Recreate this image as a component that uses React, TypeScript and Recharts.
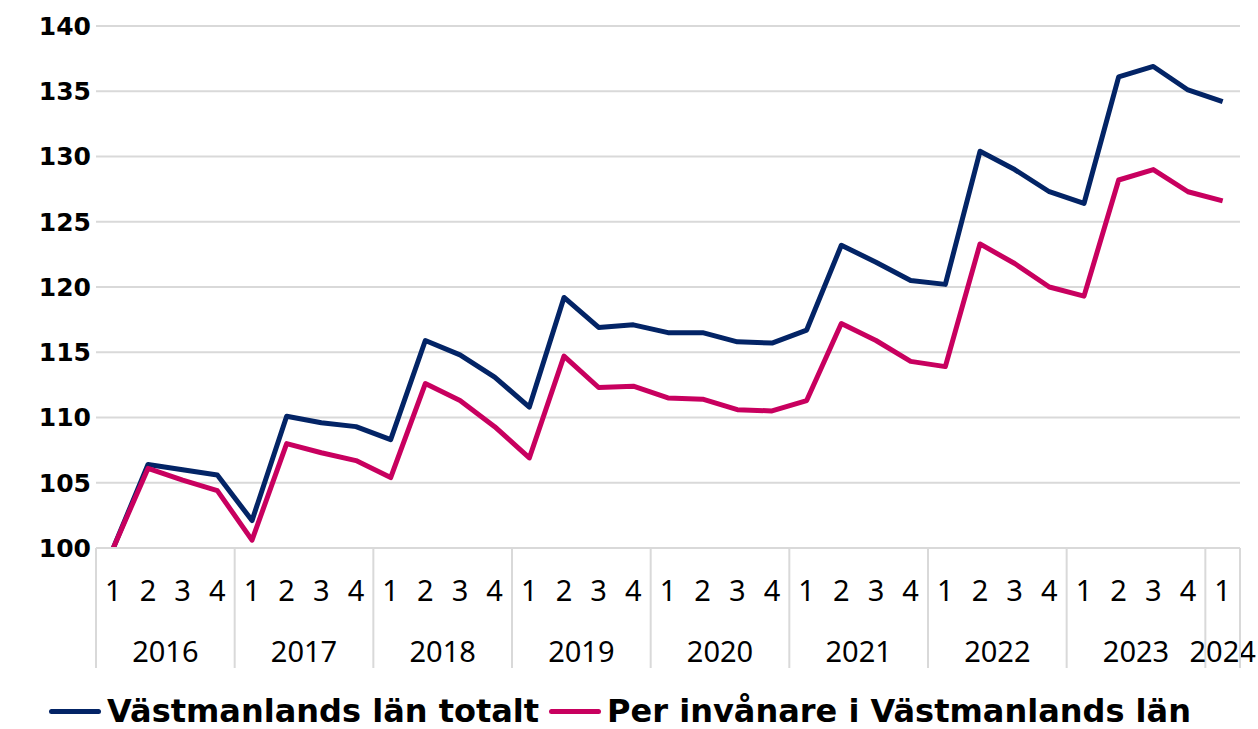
import React from "react";
import {
  LineChart,
  Line,
  XAxis,
  YAxis,
  CartesianGrid,
  Legend,
} from "recharts";

const quarterLabels = [
  "1", "2", "3", "4", "1", "2", "3", "4", "1", "2", "3", "4",
  "1", "2", "3", "4", "1", "2", "3", "4", "1", "2", "3", "4",
  "1", "2", "3", "4", "1", "2", "3", "4", "1",
];
const yearLabels = ["2016", "2017", "2018", "2019", "2020", "2021", "2022", "2023", "2024"];
const quartersPerYear = [4, 4, 4, 4, 4, 4, 4, 4, 1];

const totalt = [
  100, 106.4, 106.0, 105.6, 102.1, 110.1, 109.6, 109.3,
  108.3, 115.9, 114.8, 113.1, 110.8, 119.2, 116.9, 117.1,
  116.5, 116.5, 115.8, 115.7, 116.7, 123.2, 121.9, 120.5,
  120.2, 130.4, 129.0, 127.3, 126.4, 136.1, 136.9, 135.1, 134.2,
];
const perInvanare = [
  100, 106.1, 105.2, 104.4, 100.6, 108.0, 107.3, 106.7,
  105.4, 112.6, 111.3, 109.3, 106.9, 114.7, 112.3, 112.4,
  111.5, 111.4, 110.6, 110.5, 111.3, 117.2, 115.9, 114.3,
  113.9, 123.3, 121.8, 120.0, 119.3, 128.2, 129.0, 127.3, 126.6,
];
const yTicks = [100, 105, 110, 115, 120, 125, 130, 135, 140];

const BLUE = "#032466";
const PINK = "#c8005f";
const GRID = "#d9d9d9";

const WIDTH = 1258;
const HEIGHT = 729;
const Y_AXIS_W = 96;
const RIGHT = 18;
const BAND = (WIDTH - Y_AXIS_W - RIGHT) / quarterLabels.length;

const data = quarterLabels.map((q, i) => ({
  key: i,
  q,
  totalt: totalt[i],
  perInvanare: perInvanare[i],
}));

// index of first quarter of each year
const yearStarts: number[] = [];
quartersPerYear.reduce((acc, n) => {
  yearStarts.push(acc);
  return acc + n;
}, 0);

const QuarterTick = (props: any) => {
  const { x, y, index } = props;
  const yearIdx = yearStarts.indexOf(index);
  const left = x - BAND / 2;
  return (
    <g>
      <text
        x={x}
        y={y + 53}
        textAnchor="middle"
        fill="#000"
        fontSize={29}
        fontFamily="'Noto Sans', sans-serif"
      >
        {quarterLabels[index]}
      </text>
      {yearIdx >= 0 && (
        <>
          <line x1={left} x2={left} y1={y} y2={y + 120} stroke={GRID} strokeWidth={2} />
          <text
            x={left + (quartersPerYear[yearIdx] * BAND) / 2}
            y={y + 114}
            textAnchor="middle"
            fill="#000"
            fontSize={29}
            fontFamily="'Noto Sans', sans-serif"
          >
            {yearLabels[yearIdx]}
          </text>
        </>
      )}
      {index === quarterLabels.length - 1 && (
        <line x1={x + BAND / 2} x2={x + BAND / 2} y1={y} y2={y + 120} stroke={GRID} strokeWidth={2} />
      )}
    </g>
  );
};

const legendItems = [
  { label: "Västmanlands län totalt", color: BLUE },
  { label: "Per invånare i Västmanlands län", color: PINK },
];

const LegendContent = () => (
  <div
    style={{
      display: "flex",
      justifyContent: "center",
      alignItems: "center",
      gap: 10,
      paddingTop: 24,
      fontFamily: "'DejaVu Sans', sans-serif",
      fontWeight: "bold",
      fontSize: 32,
      color: "#000",
    }}
  >
    {legendItems.map((it) => (
      <div key={it.label} style={{ display: "flex", alignItems: "center" }}>
        <span
          style={{
            display: "inline-block",
            width: 52,
            height: 5,
            borderRadius: 3,
            background: it.color,
            marginRight: 6,
          }}
        />
        <span>{it.label}</span>
      </div>
    ))}
  </div>
);

export default function App() {
  return (
    <div style={{ position: "absolute", left: 0, top: 0, width: WIDTH, height: HEIGHT, background: "#fff" }}>
      <LineChart
        width={WIDTH}
        height={HEIGHT}
        data={data}
        margin={{ top: 26, right: RIGHT, left: 0, bottom: 0 }}
      >
        <CartesianGrid vertical={false} stroke={GRID} strokeWidth={2} />
        <XAxis
          dataKey="key"
          type="category"
          scale="band"
          height={120}
          interval={0}
          tickLine={false}
          tickSize={0}
          tickMargin={0}
          axisLine={{ stroke: GRID, strokeWidth: 2 }}
          tick={<QuarterTick />}
        />
        <YAxis
          width={Y_AXIS_W}
          domain={[100, 140]}
          ticks={yTicks}
          axisLine={false}
          tickLine={false}
          tickSize={0}
          tickMargin={5}
          tick={{
            fill: "#000",
            fontSize: 25,
            fontWeight: "bold",
            fontFamily: "'DejaVu Sans', sans-serif",
          }}
        />
        <Legend verticalAlign="bottom" height={61} content={<LegendContent />} />
        <Line
          dataKey="totalt"
          stroke={BLUE}
          strokeWidth={5}
          dot={false}
          strokeLinejoin="round"
          isAnimationActive={false}
        />
        <Line
          dataKey="perInvanare"
          stroke={PINK}
          strokeWidth={5}
          dot={false}
          strokeLinejoin="round"
          isAnimationActive={false}
        />
      </LineChart>
    </div>
  );
}
